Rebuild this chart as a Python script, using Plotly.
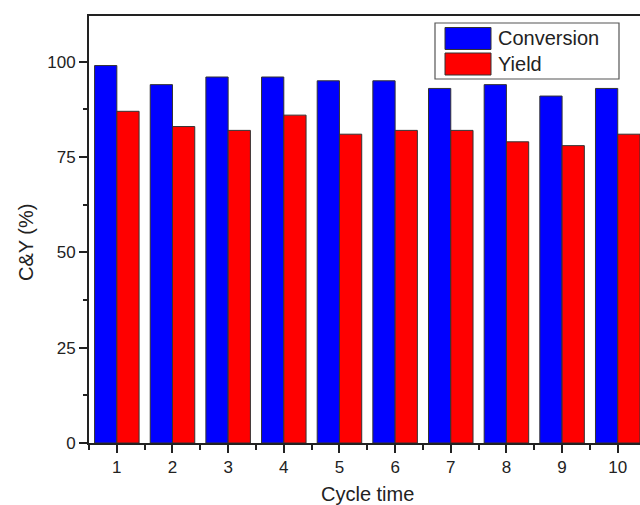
import plotly.graph_objects as go

cycles = [1, 2, 3, 4, 5, 6, 7, 8, 9, 10]
conversion = [99, 94, 96, 96, 95, 95, 93, 94, 91, 93]
yield_ = [87, 83, 82, 86, 81, 82, 82, 79, 78, 81]
y_ticks = [0, 25, 50, 75, 100]

W, H = 640, 505
L, R, T, B = 89, 0, 16, 62
pw, ph = W - L - R, H - T - B

def px_x(px):  # page pixel -> paper
    return (px - L) / pw

def px_y(py):
    return (H - B - py) / ph

font = "Liberation Sans, Arial, sans-serif"
txt = "#222222"

fig = go.Figure()
fig.add_trace(go.Bar(x=cycles, y=conversion, name="Conversion",
                     marker=dict(color="#0000FF", line=dict(color="#333333", width=1))))
fig.add_trace(go.Bar(x=cycles, y=yield_, name="Yield",
                     marker=dict(color="#FF0000", line=dict(color="#333333", width=1))))

fig.update_layout(
    width=W, height=H,
    margin=dict(l=L, r=R, t=T, b=B, pad=0),
    paper_bgcolor="white", plot_bgcolor="white",
    barmode="group", bargap=0.2, bargroupgap=0,
    showlegend=False,
    font=dict(family=font, size=17, color=txt),
)
fig.update_xaxes(
    range=[0.5, 10.4], tickmode="array", tickvals=cycles,
    ticks="outside", ticklen=8, tickwidth=1.5, tickcolor="#222",
    showline=True, linecolor="#222", linewidth=1.8, mirror=True,
    showgrid=False, zeroline=False,
    minor=dict(tickmode="array", tickvals=[c + 0.5 for c in cycles[:-1]] + [0.5],
               ticks="outside", ticklen=5, tickwidth=1.5, tickcolor="#222"),
    tickfont=dict(size=17, color=txt),
)
fig.update_yaxes(
    range=[0, 112], tickmode="array", tickvals=y_ticks,
    ticks="outside", ticklen=8, tickwidth=1.5, tickcolor="#222",
    showline=True, linecolor="#222", linewidth=1.8,
    showgrid=False, zeroline=False,
    minor=dict(tickmode="array", tickvals=[12.5, 37.5, 62.5, 87.5],
               ticks="outside", ticklen=4, tickwidth=1.5, tickcolor="#222"),
    tickfont=dict(size=17, color=txt),
)

# axis titles
fig.add_annotation(text="Cycle time", xref="paper", yref="paper",
                   x=px_x(367), y=px_y(494), xanchor="center", yanchor="middle",
                   showarrow=False, font=dict(size=20, color=txt, family=font))
fig.add_annotation(text="C&Y (%)", xref="paper", yref="paper",
                   x=px_x(26), y=px_y(243), xanchor="center", yanchor="middle",
                   textangle=-90, showarrow=False, font=dict(size=20, color=txt, family=font))

# legend box
fig.add_shape(type="rect", xref="paper", yref="paper",
              x0=px_x(435), x1=px_x(619), y0=px_y(79), y1=px_y(23),
              line=dict(color="#555555", width=1.2), fillcolor="white")
for i, (name, col) in enumerate([("Conversion", "#0000FF"), ("Yield", "#FF0000")]):
    y0 = 27.5 + i * 25.5
    fig.add_shape(type="rect", xref="paper", yref="paper",
                  x0=px_x(445), x1=px_x(491), y0=px_y(y0 + 22), y1=px_y(y0),
                  line=dict(color="#333333", width=1), fillcolor=col)
    fig.add_annotation(text=name, xref="paper", yref="paper",
                       x=px_x(496), y=px_y(y0 + 11), xanchor="left", yanchor="middle",
                       showarrow=False, font=dict(size=20, color=txt, family=font))

# remove the default 8px body margin so the figure sits at the page corner
fig.write_html("out.html", config={"displayModeBar": False},
               post_script="document.body.style.margin='0';")
